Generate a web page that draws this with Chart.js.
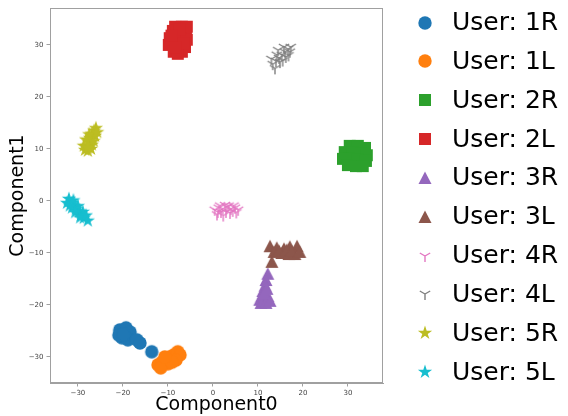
<!DOCTYPE html>
<html>
<head>
<meta charset="utf-8">
<script src="https://cdn.jsdelivr.net/npm/chart.js@4/dist/chart.umd.min.js"></script>
<style>
  html, body { margin: 0; padding: 0; background: #fff; }
  #wrap { position: relative; width: 568px; height: 416px; }
  #legend .lg-text { position: absolute; left: 452px; font: 25px "DejaVu Sans", sans-serif; line-height: 30px; color: #000; white-space: nowrap; }
  #legend canvas { position: absolute; }
</style>
</head>
<body>
<div id="wrap">
  <canvas id="chart" width="568" height="416"></canvas>
  <div id="legend"></div>
</div>
<script>
/* t-SNE style scatter, one cluster per user/hand.
   Values. */
const seriesLabels = ["User: 1R", "User: 1L", "User: 2R", "User: 2L", "User: 3R",
                      "User: 3L", "User: 4R", "User: 4L", "User: 5R", "User: 5L"];
const seriesColors = ["#1f77b4", "#ff7f0e", "#2ca02c", "#d62728", "#9467bd",
                      "#8c564b", "#e377c2", "#7f7f7f", "#bcbd22", "#17becf"];
const seriesShapes = ["circle", "circle", "square", "square", "triangle",
                      "triangle", "tri", "tri", "star", "star"];

const xTicks = [-30, -20, -10, 0, 10, 20, 30];
const yTicks = [-30, -20, -10, 0, 10, 20, 30];

const user1R = [[-20.7, -24.8], [-19.3, -24.4], [-18.4, -25.2], [-20.2, -26.3], [-18.9, -26.7],
                [-20.9, -25.8], [-19.8, -25.6], [-16.9, -26.7], [-16.2, -27.3], [-13.6, -29.0]];
const user1L = [[-12.2, -31.5], [-11.3, -31.0], [-10.4, -30.6], [-9.6, -30.0], [-8.7, -29.6],
                [-7.8, -29.0], [-7.3, -29.6], [-8.2, -30.6], [-10.0, -31.3], [-11.6, -32.1],
                [-9.1, -31.0], [-10.7, -30.0]];
const user2R = [[30.4, 10.6], [32.2, 10.6], [33.8, 10.2], [29.3, 9.4], [31.1, 9.4], [32.9, 9.2],
                [34.2, 8.8], [28.9, 8.1], [30.4, 8.1], [32.2, 7.9], [34.0, 7.7], [30.0, 6.9],
                [31.8, 6.7], [33.3, 6.7]];
const user2L = [[-8.4, 33.5], [-6.9, 33.5], [-5.8, 33.5], [-8.9, 32.7], [-8.0, 32.3], [-6.0, 32.3],
                [-9.6, 31.3], [-7.3, 31.3], [-5.8, 31.0], [-9.8, 30.0], [-7.8, 30.0], [-6.2, 29.6],
                [-8.7, 28.7], [-6.9, 28.7], [-7.8, 28.3], [-7.5, 33.0], [-9.2, 31.8], [-6.5, 30.3],
                [-8.3, 29.5]];
const user3R = [[12.2, -14.0], [11.8, -15.2], [11.6, -16.3], [11.1, -17.3], [10.9, -18.3],
                [10.4, -19.0], [11.6, -19.0], [12.2, -18.3], [10.7, -19.6], [11.8, -19.6],
                [12.7, -19.2], [11.3, -17.7], [12.0, -16.9]];
const user3L = [[12.7, -8.7], [14.2, -9.0], [15.8, -9.2], [17.1, -8.8], [18.7, -8.7], [13.6, -9.8],
                [15.3, -10.0], [16.9, -10.2], [18.2, -10.2], [14.7, -9.6], [16.4, -9.4], [13.1, -11.7],
                [17.5, -9.6], [19.3, -9.8]];
const user4R = [[0.4, -1.7], [1.3, -1.3], [2.2, -1.5], [3.1, -1.2], [4.0, -1.5], [4.9, -1.3],
                [5.6, -1.7], [1.8, -2.1], [2.9, -2.1], [3.8, -2.3], [2.7, -0.8], [4.4, -1.9], [1.1, -2.1],
                [0.9, -2.6], [2.3, -2.8], [3.5, -0.9], [5.2, -2.2], [1.6, -0.9], [4.6, -0.9]];
const user4L = [[13.3, 26.3], [14.0, 26.9], [14.7, 27.5], [15.3, 28.1], [16.0, 28.7], [16.7, 29.2],
                [17.3, 29.6], [14.9, 26.7], [16.2, 27.7], [14.2, 28.1], [15.8, 29.6], [17.1, 28.7],
                [13.8, 25.5], [15.5, 27.0], [16.8, 28.0], [14.5, 29.0], [13.0, 27.3]];
const user5R = [[-28.4, 9.8], [-28.0, 10.6], [-27.6, 11.3], [-27.3, 12.1], [-26.9, 12.9], [-26.4, 13.5],
                [-26.0, 14.0], [-27.8, 9.6], [-26.9, 10.8], [-28.7, 10.6], [-26.2, 12.5], [-27.1, 10.0],
                [-27.5, 12.8], [-26.5, 11.5], [-28.2, 11.8], [-25.7, 13.2], [-27.8, 10.2]];
const user5L = [[-32.0, 0.4], [-31.3, -0.4], [-30.9, -1.0], [-30.4, -1.5], [-29.8, -2.1], [-29.3, -2.7],
                [-28.7, -3.3], [-27.8, -3.8], [-31.3, -1.3], [-30.0, -1.0], [-28.9, -2.1], [-32.4, -0.4],
                [-31.8, -0.9], [-30.6, -2.2], [-29.5, -3.2], [-28.2, -2.8], [-31.0, 0.1]];

const seriesData = [user1R, user1L, user2R, user2L, user3R, user3L, user4R, user4L, user5R, user5L];

/* ---------- marker images (matplotlib-like shapes) ---------- */

function makeMarker(shape, color) {
  const size = 18, m = size / 2;
  const c = document.createElement("canvas");
  c.width = c.height = size;
  const g = c.getContext("2d");
  g.fillStyle = color;
  g.strokeStyle = color;
  g.beginPath();
  if (shape === "circle") {
    g.arc(m, m, 6.7, 0, Math.PI * 2);
    g.fill();
  } else if (shape === "square") {
    g.rect(m - 6, m - 6, 12, 12);
    g.fill();
  } else if (shape === "triangle") {
    g.moveTo(m, m - 6.5);
    g.lineTo(m - 6.5, m + 6);
    g.lineTo(m + 6.5, m + 6);
    g.closePath();
    g.fill();
  } else if (shape === "star") {
    const R = 7.5, r = R * 0.381;
    for (let i = 0; i < 10; i++) {
      const a = -Math.PI / 2 + i * Math.PI / 5;
      const rr = i % 2 ? r : R;
      g.lineTo(m + rr * Math.cos(a), m + rr * Math.sin(a));
    }
    g.closePath();
    g.fill();
  } else { // tri_down "Y"
    const R = 6;
    g.lineWidth = 1.4;
    g.moveTo(m, m); g.lineTo(m, m + R);
    g.moveTo(m, m); g.lineTo(m - R * 0.866, m - R * 0.5);
    g.moveTo(m, m); g.lineTo(m + R * 0.866, m - R * 0.5);
    g.stroke();
  }
  return c;
}

const markers = seriesShapes.map((s, i) => makeMarker(s, seriesColors[i]));

/* ---------- chart ---------- */

const minus = v => String(v).replace("-", "\u2212");

const frame = {
  id: "frame",
  afterDraw(chart) {
    const { ctx, chartArea: a } = chart;
    ctx.save();
    ctx.strokeStyle = "#a0a0a0";
    ctx.lineWidth = 1;
    ctx.strokeRect(a.left + 0.5, a.top + 0.5, a.right - a.left - 1, a.bottom - a.top - 1);
    ctx.restore();
  }
};

new Chart(document.getElementById("chart"), {
  type: "scatter",
  data: {
    datasets: seriesLabels.map((label, i) => ({
      label,
      data: seriesData[i].map(p => ({ x: p[0], y: p[1] })),
      pointStyle: markers[i],
      order: seriesLabels.length - i, // later users drawn on top, like matplotlib
    })),
  },
  options: {
    responsive: false,
    animation: false,
    events: [],
    layout: { padding: { top: 8, right: 185, left: 0, bottom: 0 } },
    plugins: { legend: { display: false }, tooltip: { enabled: false } },
    scales: {
      x: {
        type: "linear",
        min: -36.2, max: 37.8,
        afterBuildTicks: s => { s.ticks = xTicks.map(v => ({ value: v })); },
        afterFit: s => { s.height = 33; },
        grid: { drawOnChartArea: false, tickLength: 3.5, color: "#a0a0a0" },
        border: { color: "#a0a0a0" },
        ticks: { font: { family: "DejaVu Sans", size: 7 }, color: "#444", padding: 2, maxRotation: 0, callback: minus },
        title: { display: true, text: "Component0", font: { family: "DejaVu Sans", size: 19 }, color: "#000", padding: 0 },
      },
      y: {
        type: "linear",
        min: -35.0, max: 37.1,
        afterBuildTicks: s => { s.ticks = yTicks.map(v => ({ value: v })); },
        afterFit: s => { s.width = 50; },
        grid: { drawOnChartArea: false, tickLength: 3.5, color: "#a0a0a0" },
        border: { color: "#a0a0a0" },
        ticks: { font: { family: "DejaVu Sans", size: 7 }, color: "#444", padding: 3, callback: minus },
        title: { display: true, text: "Component1", font: { family: "DejaVu Sans", size: 19 }, color: "#000", padding: { top: 7, bottom: 0 } },
      },
    },
  },
  plugins: [frame],
});

/* ---------- legend (right side) ---------- */

const legend = document.getElementById("legend");
seriesLabels.forEach((label, i) => {
  const cy = 21.5 + i * 38.85;
  const mk = makeMarker(seriesShapes[i], seriesColors[i]);
  mk.style.left = (425 - 9) + "px";
  mk.style.top = (cy + 1 - 9) + "px";
  legend.appendChild(mk);
  const t = document.createElement("div");
  t.className = "lg-text";
  t.style.top = (cy - 14.5) + "px";
  t.textContent = label;
  legend.appendChild(t);
});
</script>
</body>
</html>
